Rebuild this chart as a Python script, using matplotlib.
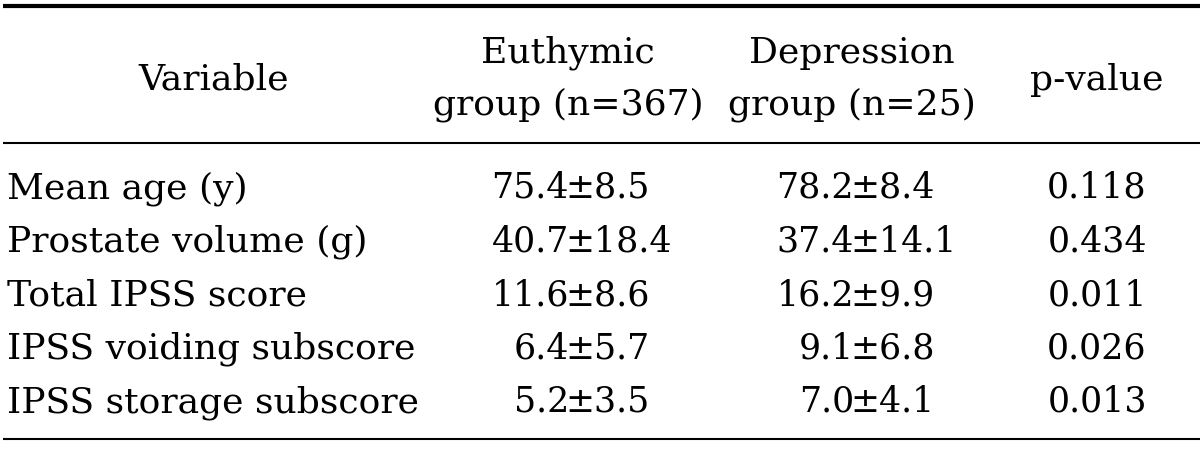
import matplotlib
matplotlib.use("Agg")
import matplotlib.pyplot as plt

variables = ["Mean age (y)", "Prostate volume (g)", "Total IPSS score",
             "IPSS voiding subscore", "IPSS storage subscore"]
euthymic_mean = ["75.4", "40.7", "11.6", "6.4", "5.2"]
euthymic_sd = ["8.5", "18.4", "8.6", "5.7", "3.5"]
depression_mean = ["78.2", "37.4", "16.2", "9.1", "7.0"]
depression_sd = ["8.4", "14.1", "9.9", "6.8", "4.1"]
p_values = ["0.118", "0.434", "0.011", "0.026", "0.013"]

W, H = 1200, 449
fig = plt.figure(figsize=(W / 100, H / 100), dpi=100)
ax = fig.add_axes([0, 0, 1, 1])
ax.set_xlim(0, W)
ax.set_ylim(H, 0)
ax.axis("off")

font = dict(family="DejaVu Serif", size=26, color="black")
numfont = dict(family="DejaVu Serif", size=25, color="black")

# rules
ax.plot([3, W], [6, 6], color="black", lw=3.0, solid_capstyle="butt")
ax.plot([3, W], [143, 143], color="black", lw=1.5, solid_capstyle="butt")
ax.plot([3, W], [439, 439], color="black", lw=1.5, solid_capstyle="butt")

# header
ax.text(214, 90, "Variable", ha="center", va="baseline", **font)
ax.text(568, 63, "Euthymic", ha="center", va="baseline", **font)
ax.text(568, 115, "group (n=367)", ha="center", va="baseline", **font)
ax.text(852, 63, "Depression", ha="center", va="baseline", **font)
ax.text(852, 115, "group (n=25)", ha="center", va="baseline", **font)
ax.text(1097, 90, "p-value", ha="center", va="baseline", **font)

# body
y0, dy = 198, 53.5
for i, name in enumerate(variables):
    y = y0 + i * dy
    ax.text(7, y, name, ha="left", va="baseline", **font)
    ax.text(569, y, euthymic_mean[i], ha="right", va="baseline", **numfont)
    ax.text(565, y, "\u00b1" + euthymic_sd[i], ha="left", va="baseline", **numfont)
    ax.text(854, y, depression_mean[i], ha="right", va="baseline", **numfont)
    ax.text(850, y, "\u00b1" + depression_sd[i], ha="left", va="baseline", **numfont)
    ax.text(1097, y, p_values[i], ha="center", va="baseline", **numfont)

fig.savefig("out.png", dpi=100)
